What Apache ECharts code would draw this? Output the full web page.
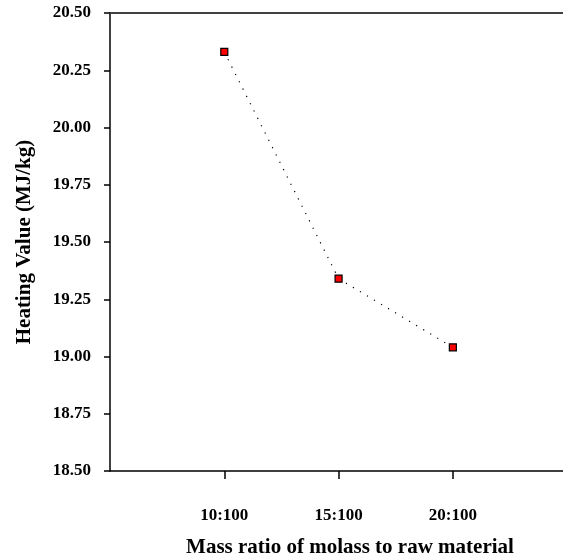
<!DOCTYPE html>
<html>
<head>
<meta charset="utf-8">
<script src="https://cdn.jsdelivr.net/npm/echarts@6/dist/echarts.min.js"></script>
<style>
html,body{margin:0;padding:0;background:#fff;}
#chart{width:563px;height:557px;}
</style>
</head>
<body>
<div id="chart"></div>
<script>
// Data
const ratios = [10, 15, 20];               // molass parts per 100 raw material
const ratioLabels = ['10:100', '15:100', '20:100'];
const heatingValues = [20.33, 19.34, 19.04];
const yTicks = [18.5, 18.75, 19.0, 19.25, 19.5, 19.75, 20.0, 20.25, 20.5];

const font = 'Liberation Serif';
const chart = echarts.init(document.getElementById('chart'));
const points = ratios.map((r, i) => [r, heatingValues[i]]);

chart.setOption({
  animation: false,
  backgroundColor: '#ffffff',
  grid: { left: 110, top: 13, width: 480, height: 458, containLabel: false, outerBoundsMode: 'none' },
  xAxis: [{
    type: 'value', min: 5, max: 26, position: 'bottom',
    name: 'Mass ratio of molass to raw material',
    nameLocation: 'middle', nameGap: 66,
    nameTextStyle: { fontFamily: font, fontWeight: 'bold', fontSize: 21, color: '#000' },
    axisLine: { show: true, lineStyle: { color: '#000', width: 1.5 } },
    axisTick: { show: true, inside: false, length: 8, customValues: ratios, lineStyle: { color: '#000', width: 1.5 } },
    axisLabel: {
      customValues: ratios, margin: 36,
      fontFamily: font, fontWeight: 'bold', fontSize: 17, color: '#000',
      formatter: v => ratioLabels[ratios.indexOf(v)] || ''
    },
    splitLine: { show: false }
  }, {
    type: 'value', min: 5, max: 26, position: 'top',
    axisLine: { show: true, onZero: false, lineStyle: { color: '#404040', width: 2 } },
    axisTick: { show: false }, axisLabel: { show: false }, splitLine: { show: false }
  }],
  yAxis: {
    type: 'value', min: 18.5, max: 20.5, interval: 0.25,
    name: 'Heating Value (MJ/kg)',
    nameLocation: 'middle', nameGap: 75, nameRotate: 90,
    nameTextStyle: { fontFamily: font, fontWeight: 'bold', fontSize: 21, color: '#000' },
    axisLine: { show: true, lineStyle: { color: '#000', width: 1.5 } },
    axisTick: { show: true, inside: false, length: 6, lineStyle: { color: '#000', width: 1.5 } },
    axisLabel: {
      margin: 19, fontFamily: font, fontWeight: 'bold', fontSize: 17, color: '#000',
      formatter: v => v.toFixed(2)
    },
    splitLine: { show: false }
  },
  series: [{
    type: 'line',
    data: points,
    symbol: 'rect', symbolSize: 7,
    itemStyle: { color: '#ff0000', borderColor: '#000', borderWidth: 1.2 },
    lineStyle: { color: '#000', width: 1.2, type: [1.2, 7] }
  }]
});
</script>
</body>
</html>
